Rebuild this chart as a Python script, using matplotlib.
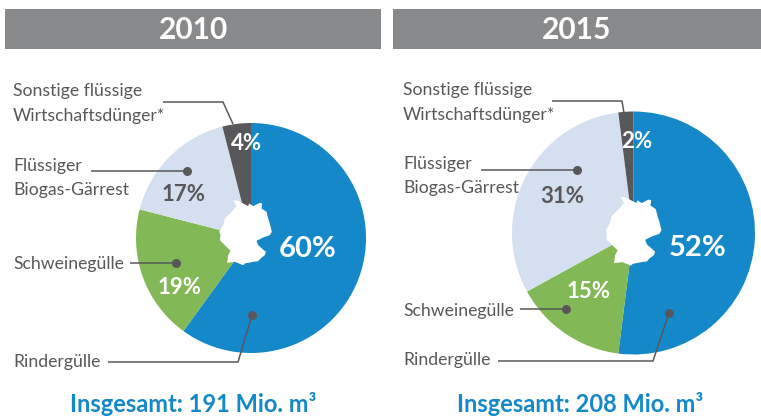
import numpy as np
import matplotlib
matplotlib.use('Agg')
import matplotlib.pyplot as plt
from matplotlib.patches import Polygon, Rectangle

W, H = 761, 417

# data
years = ['2010', '2015']
categories = ['Rindergülle', 'Schweinegülle', 'Flüssiger\nBiogas-Gärrest', 'Sonstige flüssige\nWirtschaftsdünger*']
shares_2010 = [60, 19, 17, 4]
shares_2015 = [52, 15, 31, 2]
totals = ['Insgesamt: 191 Mio. m³', 'Insgesamt: 208 Mio. m³']
colors = ['#1488c8', '#82b855', '#d4dff0', '#58585a']
pct_colors = ['white', 'white', '#58585a', 'white']
pct_sizes = [21, 16, 16, 16]

DARK = '#58585a'
plt.rcParams['font.family'] = ['Lato', 'DejaVu Sans']

# rough outline of Germany, 3 units per pixel
germany = np.array([
    (130, 60), (145, 62), (160, 70), (175, 78), (178, 70), (190, 78), (210, 68), (217, 70),
    (215, 85), (230, 95), (235, 115), (240, 130), (246, 155), (240, 165), (220, 172), (200, 182),
    (205, 195), (228, 215), (225, 225), (212, 235), (205, 243), (190, 245), (165, 250), (160, 255),
    (135, 245), (112, 248), (115, 225), (122, 212), (105, 195), (90, 180), (92, 165), (88, 155),
    (100, 135), (105, 115), (120, 100), (130, 90), (140, 78),
])
germany = (germany - (167, 157)) / 3

fig = plt.figure(figsize=(W / 100, H / 100), dpi=100)
ax = fig.add_axes([0, 0, 1, 1])


def leader(points, dot=True):
    xs, ys = zip(*points)
    ax.plot(xs, ys, color=DARK, lw=1.1, zorder=5, solid_capstyle='butt')
    if dot:
        ax.plot(xs[-1], ys[-1], 'o', color=DARK, ms=6.5, mew=0, zorder=5)


def draw_panel(shares, cx, cy, r, head, total, total_x, pct_pos, g_pos, g_scale, label_pos, lines):
    ax.add_patch(Rectangle((head[0], 9), head[1] - head[0], 40, color='#88898b', lw=0))
    ax.text((head[0] + head[1]) / 2, 29.5, head[2], color='white', fontsize=21.5, fontweight='bold',
            ha='center', va='center')

    # y axis points down here, so counterclock from -90 is clockwise from the top on screen
    ax.pie(shares, colors=colors, startangle=-90, counterclock=True, center=(cx, cy), radius=r,
           frame=False, wedgeprops={'lw': 0})

    ax.add_patch(Polygon(germany * g_scale + g_pos, closed=True, color='white', lw=0, zorder=4))

    for s, (x, y), c, fs in zip(shares, pct_pos, pct_colors, pct_sizes):
        ax.text(x, y, f'{s}%', color=c, fontsize=fs, fontweight='bold', ha='center', va='center', zorder=6)

    for name, (x, y) in zip(categories, label_pos):
        ax.text(x, y, name, color=DARK, fontsize=12.7, ha='left', va='center', linespacing=1.62, zorder=6)
    for pts, dot in lines:
        leader(pts, dot)

    ax.text(total_x, 404, total, color='#1488c8', fontsize=17, fontweight='bold', ha='center', va='center')


draw_panel(shares_2010, 251, 238, 115, (5, 381, years[0]), totals[0], 193,
           [(308, 249), (180, 287), (184, 194), (247, 144)],
           (245.5, 232.5), 1.0,
           [(13, 362), (13, 264), (13, 178), (13, 103.5)],
           [([(108, 362), (238, 362), (252, 315)], True),
            ([(130, 263), (176, 263)], True),
            ([(91, 171), (187, 171)], True),
            ([(163, 102), (223, 102), (233, 124)], False)])

draw_panel(shares_2015, 633.5, 233, 121.5, (393, 761, years[1]), totals[1], 580,
           [(698, 248), (589, 292), (562, 196), (637, 142)],
           (633.5, 231), 1.06,
           [(403, 360), (403, 311), (403, 176), (403, 102.5)],
           [([(498, 361), (653, 361), (669, 313)], True),
            ([(520, 309), (566, 309)], True),
            ([(481, 170), (577, 170)], True),
            ([(552, 101), (622, 101), (624, 113)], False)])

ax.set_xlim(0, W)
ax.set_ylim(H, 0)
ax.set_aspect('auto')
ax.axis('off')

fig.savefig('out.png', dpi=100)
